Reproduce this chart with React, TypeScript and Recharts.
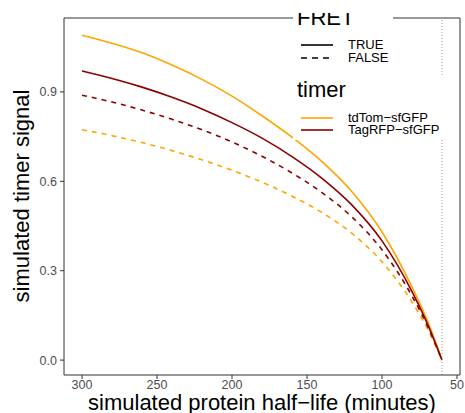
import React from 'react';
import { LineChart, Line, XAxis, YAxis, ReferenceLine } from 'recharts';

// half-life grid (minutes) and simulated signal per timer / FRET setting
const halfLife = [300, 280, 260, 240, 220, 200, 180, 160, 140, 120, 100, 80, 70, 60];
const tdTomTrue = [1.09, 1.063, 1.031, 0.99, 0.942, 0.886, 0.82, 0.748, 0.666, 0.565, 0.43, 0.245, 0.135, 0];
const tagRfpTrue = [0.97, 0.945, 0.916, 0.882, 0.843, 0.797, 0.745, 0.683, 0.61, 0.52, 0.4, 0.23, 0.125, 0];
const tagRfpFalse = [0.889, 0.866, 0.839, 0.808, 0.773, 0.732, 0.684, 0.628, 0.562, 0.48, 0.37, 0.215, 0.118, 0];
const tdTomFalse = [0.773, 0.753, 0.73, 0.703, 0.672, 0.637, 0.597, 0.55, 0.495, 0.425, 0.33, 0.195, 0.108, 0];

const xTicks = [300, 250, 200, 150, 100, 50];
const yTicks = [0, 0.3, 0.6, 0.9];
const cutoff = 60;

const ORANGE = '#FFA500';
const DARKRED = '#8B0000';
const FONT = '"Liberation Sans", Arial, Helvetica, sans-serif';

const data = halfLife.map((h, i) => ({
  halfLife: h,
  tdTomTrue: tdTomTrue[i],
  tagRfpTrue: tagRfpTrue[i],
  tagRfpFalse: tagRfpFalse[i],
  tdTomFalse: tdTomFalse[i],
}));

const Y_MIN = -0.05;
const Y_MAX = 1.148;

function KeyLine({ color, dashed }: { color: string; dashed?: boolean }) {
  return (
    <svg width={32} height={6} style={{ display: 'block' }}>
      <line x1={0} y1={3} x2={32} y2={3} stroke={color} strokeWidth={1.6} strokeDasharray={dashed ? '6 5' : undefined} />
    </svg>
  );
}

function LegendRow({ top, label, color, dashed }: { top: number; label: string; color: string; dashed?: boolean }) {
  return (
    <div style={{ position: 'absolute', left: 8, top: top - 3 }}>
      <KeyLine color={color} dashed={dashed} />
      <span style={{ position: 'absolute', left: 47, top: -5, fontSize: 13, lineHeight: '16px', whiteSpace: 'nowrap', color: '#000' }}>
        {label}
      </span>
    </div>
  );
}

export default function App() {
  return (
    <div style={{ position: 'absolute', left: 0, top: 0, width: 465, height: 413, background: '#fff', fontFamily: FONT, overflow: 'hidden' }}>
      <LineChart width={465} height={413} data={data} margin={{ top: 18, right: 5, left: 0, bottom: 0 }}>
        <XAxis
          dataKey="halfLife"
          type="number"
          domain={[48, 312]}
          reversed
          ticks={xTicks}
          allowDataOverflow
          height={38}
          tickSize={4}
          tickMargin={1}
          stroke="#333333"
          tick={{ fill: '#4D4D4D', fontSize: 12.5, fontFamily: FONT }}
          label={{
            content: () => (
              <text x={262} y={410} textAnchor="middle" fontSize={22} fontFamily={FONT} fill="#000">
                simulated protein half−life (minutes)
              </text>
            ),
          }}
        />
        <YAxis
          type="number"
          domain={[Y_MIN, Y_MAX]}
          ticks={yTicks}
          allowDataOverflow
          width={64}
          tickSize={4}
          tickMargin={3}
          stroke="#333333"
          tickFormatter={(v: number) => v.toFixed(1)}
          tick={{ fill: '#4D4D4D', fontSize: 12.5, fontFamily: FONT }}
          label={{
            content: () => (
              <text x={29} y={196} transform="rotate(-90 29 196)" textAnchor="middle" fontSize={22} fontFamily={FONT} fill="#000">
                simulated timer signal
              </text>
            ),
          }}
        />
        <ReferenceLine y={Y_MAX} stroke="#333333" strokeWidth={1} />
        <ReferenceLine x={48} stroke="#333333" strokeWidth={1} />
        <Line type="monotone" dataKey="tdTomFalse" stroke={ORANGE} strokeWidth={1.6} strokeDasharray="5 5" dot={false} isAnimationActive={false} />
        <Line type="monotone" dataKey="tagRfpFalse" stroke={DARKRED} strokeWidth={1.6} strokeDasharray="5 5" dot={false} isAnimationActive={false} />
        <Line type="monotone" dataKey="tdTomTrue" stroke={ORANGE} strokeWidth={1.6} dot={false} isAnimationActive={false} />
        <Line type="monotone" dataKey="tagRfpTrue" stroke={DARKRED} strokeWidth={1.6} dot={false} isAnimationActive={false} />
        <ReferenceLine x={cutoff} stroke="#999999" strokeWidth={1} strokeDasharray="1 2" />
      </LineChart>

      {/* FRET legend */}
      <div style={{ position: 'absolute', left: 293, top: 13, width: 100, height: 62, background: '#fff', overflow: 'hidden' }}>
        <div style={{ position: 'absolute', left: 4, top: -8, fontSize: 22, lineHeight: '26px', color: '#000' }}>FRET</div>
        <div style={{ position: 'absolute', left: 0, top: -13, width: 100, height: 75 }}>
          <LegendRow top={45} label="TRUE" color="#000" />
          <LegendRow top={58} label="FALSE" color="#000" dashed />
        </div>
      </div>

      {/* timer legend */}
      <div style={{ position: 'absolute', left: 293, top: 75, width: 156, height: 65, background: '#fff' }}>
        <div style={{ position: 'absolute', left: 4, top: 2, fontSize: 22, lineHeight: '26px', color: '#000' }}>timer</div>
        <div style={{ position: 'absolute', left: 0, top: -75, width: 156, height: 140 }}>
          <LegendRow top={118} label="tdTom−sfGFP" color={ORANGE} />
          <LegendRow top={130} label="TagRFP−sfGFP" color={DARKRED} />
        </div>
      </div>
    </div>
  );
}
